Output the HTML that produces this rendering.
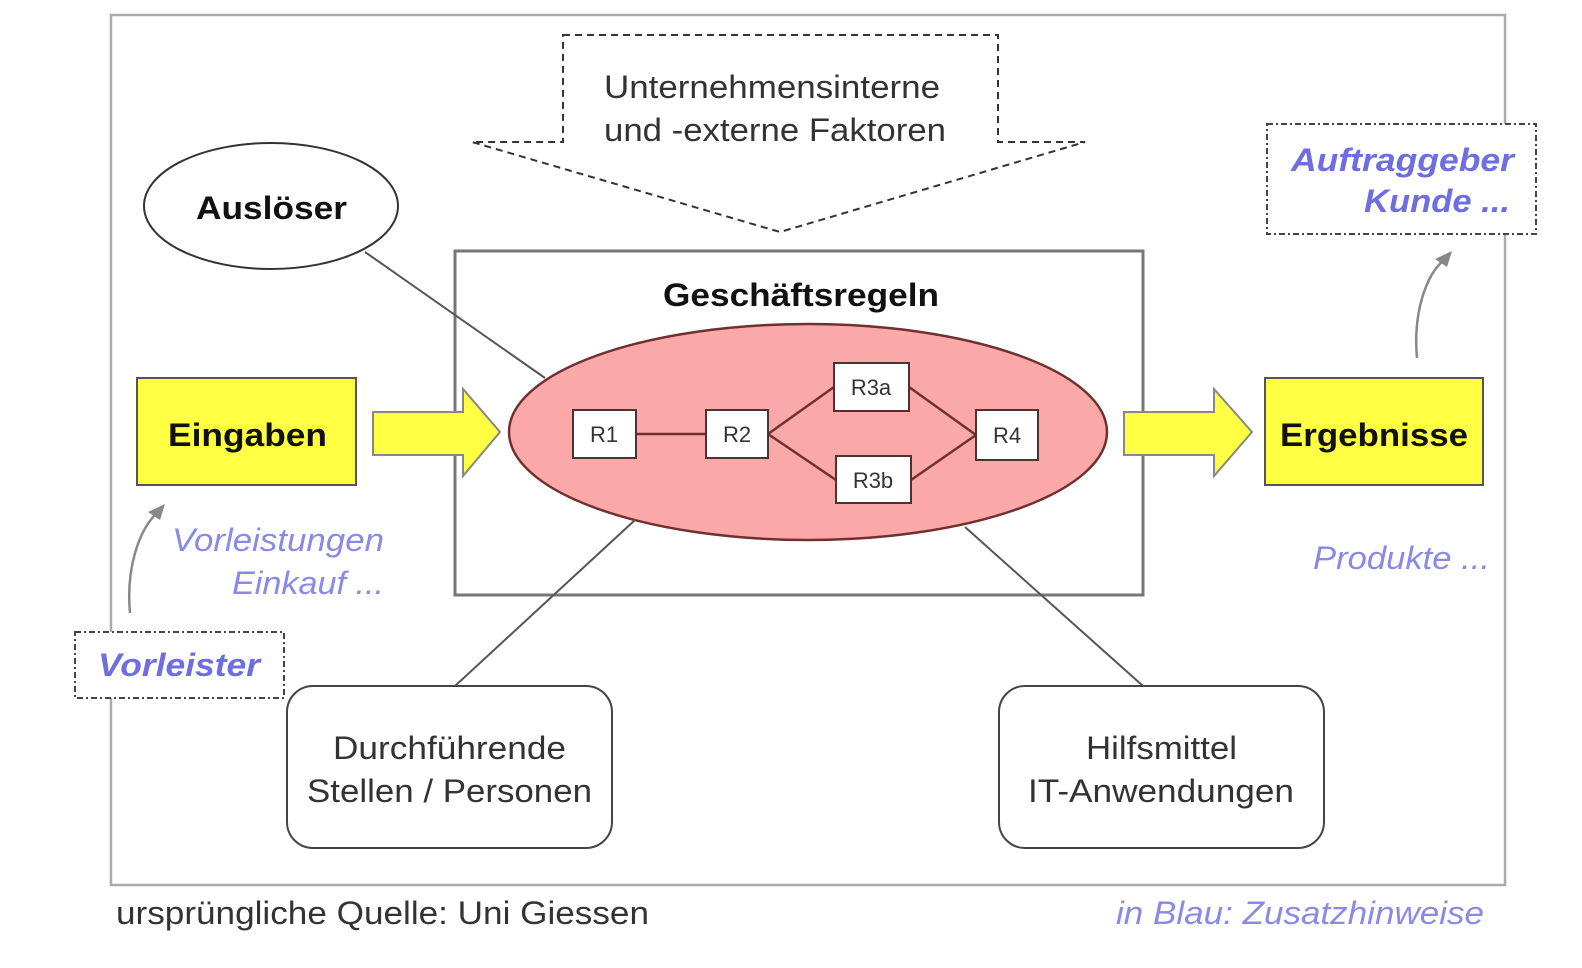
<!DOCTYPE html>
<html><head><meta charset="utf-8"><style>
html,body{margin:0;padding:0;background:#fff;width:1582px;height:968px;overflow:hidden}
svg text{font-family:"Liberation Sans",sans-serif}
</style></head><body>
<svg width="1582" height="968" viewBox="0 0 1582 968" xmlns="http://www.w3.org/2000/svg">
<rect x="111" y="15" width="1394" height="870" fill="none" stroke="#aaa" stroke-width="2.5"/>
<polygon points="563,35 998,35 998,142 1085,142 780,232 472,142 563,142" fill="#fff" stroke="#333" stroke-width="2" stroke-dasharray="7,5"/>
<text x="604" y="98" font-size="32" textLength="336" lengthAdjust="spacingAndGlyphs" fill="#333">Unternehmensinterne</text>
<text x="604" y="141" font-size="32" textLength="342" lengthAdjust="spacingAndGlyphs" fill="#333">und -externe Faktoren</text>
<ellipse cx="271" cy="206" rx="127" ry="63" fill="#fff" stroke="#333" stroke-width="2"/>
<text x="196" y="219" font-size="32" font-weight="bold" textLength="151" lengthAdjust="spacingAndGlyphs" fill="#111">Auslöser</text>
<rect x="455" y="251" width="688" height="344" fill="#fff" stroke="#777" stroke-width="3"/>
<text x="663" y="306" font-size="32" font-weight="bold" textLength="276" lengthAdjust="spacingAndGlyphs" fill="#111">Geschäftsregeln</text>
<line x1="365" y1="252" x2="545" y2="378" stroke="#555" stroke-width="2"/>
<ellipse cx="808" cy="432" rx="299" ry="108" fill="#fba8a8" stroke="#703030" stroke-width="2.5"/>
<line x1="965" y1="527" x2="1143" y2="686" stroke="#555" stroke-width="2"/>
<line x1="635" y1="520" x2="455" y2="686" stroke="#555" stroke-width="2"/>
<g stroke="#703030" stroke-width="2.5">
<line x1="636" y1="434" x2="706" y2="434"/>
<line x1="768" y1="434" x2="834" y2="387"/>
<line x1="768" y1="434" x2="836" y2="480"/>
<line x1="909" y1="387" x2="976" y2="435"/>
<line x1="911" y1="480" x2="976" y2="435"/>
</g>
<g fill="#fff" stroke="#503030" stroke-width="2">
<rect x="573" y="410" width="63" height="48"/>
<rect x="706" y="410" width="62" height="48"/>
<rect x="834" y="363" width="75" height="48"/>
<rect x="836" y="456" width="75" height="47"/>
<rect x="976" y="410" width="62" height="50"/>
</g>
<g font-size="22" text-anchor="middle" fill="#333">
<text x="604" y="442">R1</text><text x="737" y="442">R2</text>
<text x="871" y="395">R3a</text><text x="873" y="488">R3b</text>
<text x="1007" y="443">R4</text>
</g>
<rect x="137" y="378" width="219" height="107" fill="#ffff44" stroke="#555" stroke-width="2"/>
<text x="168" y="446" font-size="32" font-weight="bold" textLength="159" lengthAdjust="spacingAndGlyphs" fill="#111">Eingaben</text>
<rect x="1265" y="378" width="218" height="107" fill="#ffff44" stroke="#555" stroke-width="2"/>
<text x="1280" y="446" font-size="32" font-weight="bold" textLength="188" lengthAdjust="spacingAndGlyphs" fill="#111">Ergebnisse</text>
<polygon points="373,412 463,412 463,389 500,432 463,476 463,455 373,455" fill="#ffff44" stroke="#888" stroke-width="2"/>
<polygon points="1124,412 1214,412 1214,389 1252,432 1214,476 1214,455 1124,455" fill="#ffff44" stroke="#888" stroke-width="2"/>
<rect x="287" y="686" width="325" height="162" rx="26" fill="#fff" stroke="#444" stroke-width="2"/>
<text x="333" y="759" font-size="32" textLength="233" lengthAdjust="spacingAndGlyphs" fill="#333">Durchführende</text>
<text x="307" y="802" font-size="32" textLength="285" lengthAdjust="spacingAndGlyphs" fill="#333">Stellen / Personen</text>
<rect x="999" y="686" width="325" height="162" rx="26" fill="#fff" stroke="#444" stroke-width="2"/>
<text x="1086" y="759" font-size="32" textLength="151" lengthAdjust="spacingAndGlyphs" fill="#333">Hilfsmittel</text>
<text x="1028" y="802" font-size="32" textLength="266" lengthAdjust="spacingAndGlyphs" fill="#333">IT-Anwendungen</text>
<rect x="75" y="632" width="209" height="66" fill="#fff" stroke="#444" stroke-width="2" stroke-dasharray="6,3,2,3"/>
<text x="98" y="676" font-size="32" font-weight="bold" font-style="italic" textLength="162" lengthAdjust="spacingAndGlyphs" fill="#6e6ee0">Vorleister</text>
<rect x="1267" y="124" width="269" height="110" fill="#fff" stroke="#444" stroke-width="2" stroke-dasharray="6,3,2,3"/>
<text x="1291" y="171" font-size="32" font-weight="bold" font-style="italic" textLength="223" lengthAdjust="spacingAndGlyphs" fill="#6e6ee0">Auftraggeber</text>
<text x="1364" y="212" font-size="32" font-weight="bold" font-style="italic" textLength="146" lengthAdjust="spacingAndGlyphs" fill="#6e6ee0">Kunde ...</text>
<g font-size="32" font-style="italic" fill="#8a8ae6">
<text x="172" y="551" textLength="212" lengthAdjust="spacingAndGlyphs">Vorleistungen</text>
<text x="232" y="594" textLength="152" lengthAdjust="spacingAndGlyphs">Einkauf ...</text>
<text x="1313" y="569" textLength="177" lengthAdjust="spacingAndGlyphs">Produkte ...</text>
<text x="1116" y="924" textLength="368" lengthAdjust="spacingAndGlyphs">in Blau: Zusatzhinweise</text>
</g>
<text x="116" y="924" font-size="32" textLength="533" lengthAdjust="spacingAndGlyphs" fill="#333">ursprüngliche Quelle: Uni Giessen</text>
<path d="M130,613 C126,570 138,530 158,512" fill="none" stroke="#888" stroke-width="2.5"/>
<polygon points="165,504 148,512 160,520" fill="#888"/>
<path d="M1417,358 C1413,315 1425,275 1445,259" fill="none" stroke="#888" stroke-width="2.5"/>
<polygon points="1452,251 1435,259 1447,267" fill="#888"/>
</svg>
</body></html>
